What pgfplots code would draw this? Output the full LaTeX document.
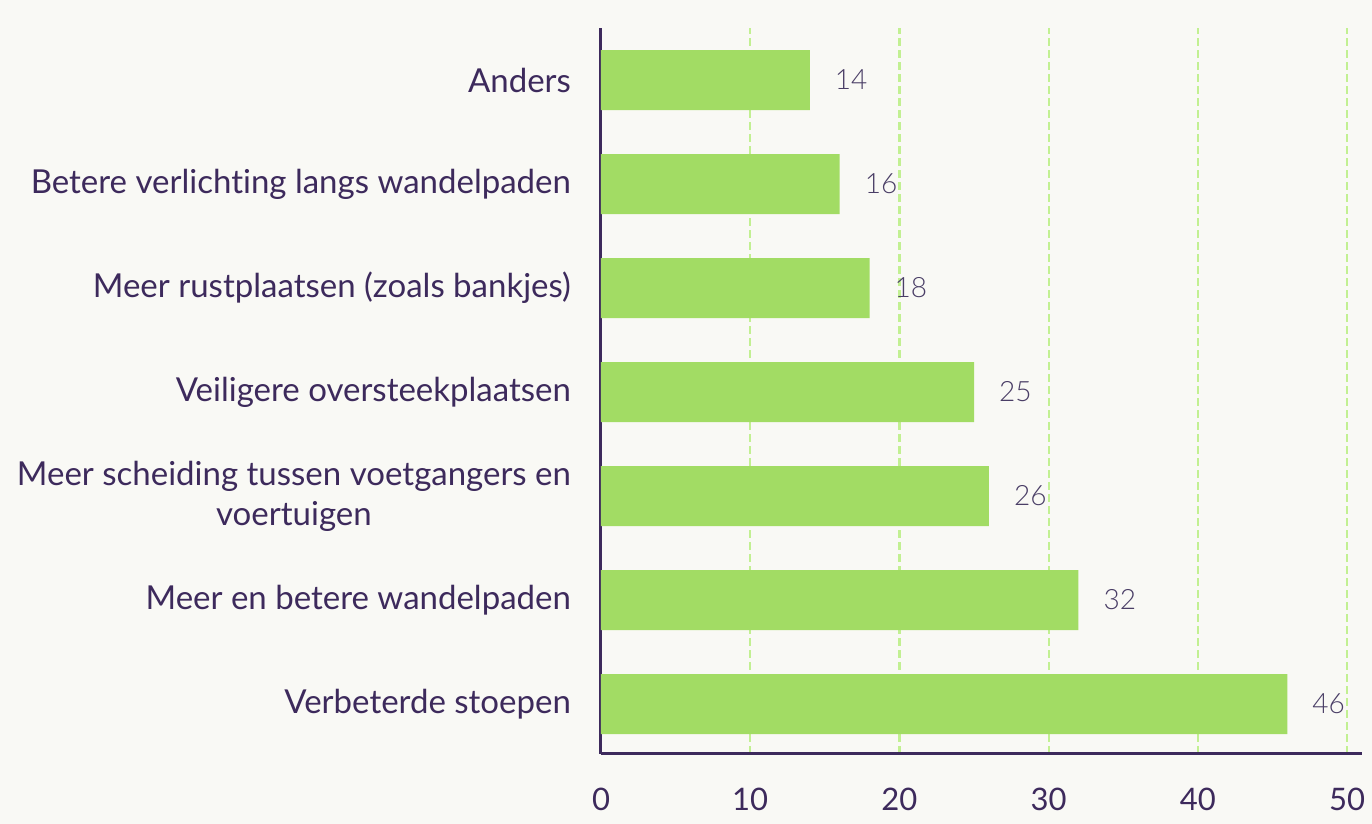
\documentclass[border=0pt]{standalone}
\usepackage{pgfplots}
\pgfplotsset{compat=1.18}
\usepackage{fontspec}
\setmainfont{Lato}[RawFeature=-liga]
\newfontfamily\lightfont{Lato Light}

\definecolor{bgcol}{HTML}{F9F9F5}
\definecolor{barcol}{HTML}{A2DC64}
\definecolor{gridcol}{HTML}{C2F092}
\definecolor{txtcol}{HTML}{3D2A5C}
\definecolor{valcol}{HTML}{4A3E66}

\begin{document}
\begin{tikzpicture}
    \fill[bgcol] (0,0) rectangle (686pt,412pt);
    \begin{axis}[
            at={(300.5pt,35pt)},
            anchor=south west,
            scale only axis,
            width=380.5pt,
            height=363pt,
            xbar,
            bar width=30pt,
            xmin=0, xmax=51,
            ymin=-0.48, ymax=6.5,
            axis x line=bottom,
            axis y line=left,
            axis line style={-, txtcol, line width=1.5pt},
            xtick={0,10,...,50},
            ytick=data,
            yticklabels={
                Verbeterde stoepen,
                Meer en betere wandelpaden,
                {Meer scheiding tussen voetgangers en\\voertuigen},
                Veiligere oversteekplaatsen,
                Meer rustplaatsen (zoals bankjes),
                Betere verlichting langs wandelpaden,
                Anders},
            major tick length=0pt,
            xmajorgrids,
            grid style={gridcol, line width=1.1pt, dash pattern=on 4pt off 2pt},
            /pgf/number format/assume math mode=true,
            xticklabel style={font=\fontsize{15.5}{18}\selectfont, text=txtcol, yshift=-13.5pt},
            yticklabel style={font=\fontsize{16.5}{20}\selectfont, text=txtcol, align=center, xshift=-11.5pt},
            nodes near coords,
            every node near coord/.append style={font=\lightfont\fontsize{14}{16}\selectfont, text=valcol, xshift=9pt},
        ]
        \addplot[fill=barcol, draw=none] table[x=v, y=i] {
            i v
            0 46
            1 32
            2 26
            3 25
            4 18
            5 16
            6 14
        };
    \end{axis}
\end{tikzpicture}
\end{document}
